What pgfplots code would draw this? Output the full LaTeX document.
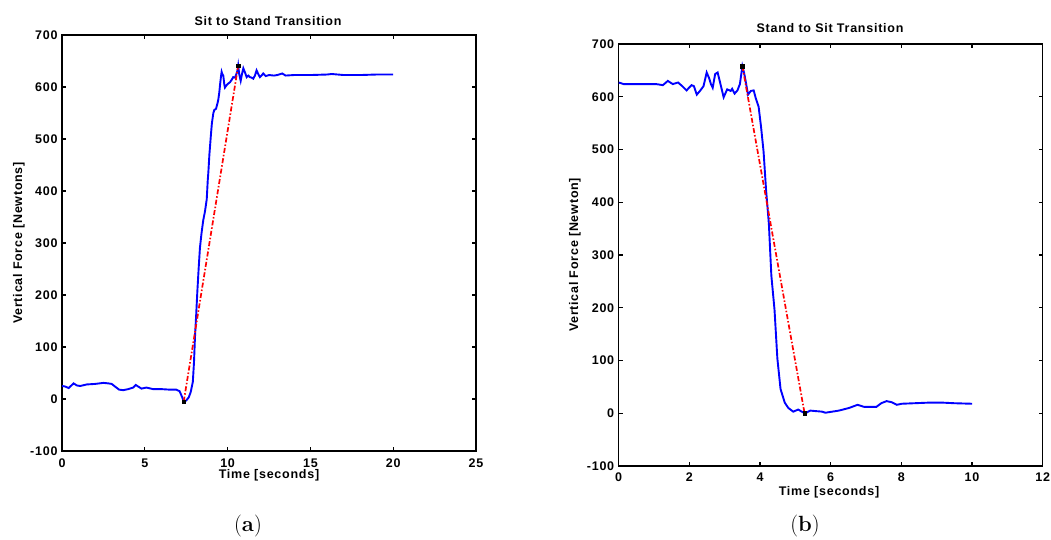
\documentclass[border=0pt]{standalone}
\usepackage{pgfplots}
\pgfplotsset{compat=1.18}
\usepackage{fontspec}
\newfontfamily\mlfont{Liberation Sans}[LetterSpace=6]
\newcommand{\tickfont}{\mlfont\bfseries\fontsize{12.5}{14}\selectfont}
\newcommand{\labfont}{\mlfont\bfseries\fontsize{12.5}{14}\selectfont}
\begin{document}
\begin{tikzpicture}
\useasboundingbox (0,0) rectangle (1051pt,540pt);
\pgfplotsset{
  mlaxis/.style={
    scale only axis,
    axis line style={line width=1.4pt},
    every tick/.style={black, line width=1.1pt},
    major tick length=4pt,
    tick align=inside,
    xtick pos=both, ytick pos=both,
    ymin=-100, ymax=700,
    ytick={-100,0,100,200,300,400,500,600,700},
    yticklabels={-100,0,100,200,300,400,500,600,700},
    ticklabel style={font=\tickfont},
    yticklabel style={anchor=east, xshift=-1pt},
  },
  rline/.style={red, line width=1.7pt, dash pattern=on 5pt off 2pt on 1.5pt off 2pt},
}
% ---------------- (a) Sit to Stand ----------------
\begin{axis}[mlaxis,
  at={(62pt,89pt)}, anchor=south west,
  width=414pt, height=416pt,
  xmin=0, xmax=25,
  xtick={0,5,10,15,20,25},
  xticklabels={0,5,10,15,20,25},
  xticklabel style={anchor=center, yshift=-12pt},
]
\addplot[blue, line width=1.9pt] coordinates {
(0,25) (0.2,24) (0.4,21) (0.7,30) (0.9,26) (1.1,25) (1.5,28) (2.0,29) (2.5,31) (2.8,30) (3.0,29) (3.2,24) (3.45,18) (3.7,17) (4.0,19) (4.3,22) (4.45,27) (4.6,24) (4.8,20) (5.1,22) (5.5,19) (6.0,19) (6.5,18) (6.9,18) (7.1,15) (7.25,4) (7.35,-5) (7.5,-3) (7.65,3) (7.77,13) (7.9,33) (7.97,70) (8.03,119) (8.1,160) (8.17,205) (8.25,250) (8.33,291) (8.43,320) (8.53,344) (8.63,360) (8.74,384) (8.8,420) (8.84,437) (8.9,470) (8.98,503) (9.05,530) (9.14,550) (9.2,556) (9.3,558) (9.4,570) (9.44,576) (9.5,590) (9.54,603) (9.6,620) (9.64,629) (9.68,625) (9.74,622) (9.8,605) (9.84,599) (9.95,604) (10.05,607) (10.14,609) (10.25,614) (10.34,619) (10.45,618) (10.54,626) (10.6,632) (10.64,641) (10.7,625) (10.79,612) (10.87,625) (10.95,636) (11.05,628) (11.15,619) (11.25,622) (11.35,619) (11.45,618) (11.55,616) (11.65,622) (11.75,632) (11.85,625) (11.95,619) (12.05,622) (12.15,626) (12.3,621) (12.5,623) (12.8,622) (13.0,623) (13.3,626) (13.5,622) (14,623) (15,623) (16,624) (16.3,625) (17,623) (18,623) (19,624) (20,624)
};
\addplot[rline] coordinates {(7.35,-5) (10.64,641)};
\addplot[only marks, mark=square*, mark size=1.8pt, black] coordinates {(7.35,-5) (10.64,641)};
\end{axis}
% ---------------- (b) Stand to Sit ----------------
\begin{axis}[mlaxis,
  at={(618.7pt,74pt)}, anchor=south west,
  width=424pt, height=422pt,
  xmin=0, xmax=12,
  xtick={0,2,4,6,8,10,12},
  xticklabels={0,2,4,6,8,10,12},
  xticklabel style={anchor=center, yshift=-11pt},
  yticklabel style={xshift=0pt},
]
\addplot[blue, line width=1.9pt] coordinates {
(0,627) (0.14,624) (0.5,624) (1.06,624) (1.25,622) (1.39,630) (1.53,624) (1.68,627) (1.8,620) (1.92,612) (2.06,622) (2.13,620) (2.21,604) (2.3,611) (2.4,620) (2.49,646) (2.56,635) (2.61,624) (2.66,617) (2.73,643) (2.8,646) (2.88,624) (2.97,599) (3.07,614) (3.17,611) (3.21,615) (3.28,606) (3.36,612) (3.43,624) (3.50,658) (3.55,645) (3.60,627) (3.66,604) (3.74,611) (3.82,612) (3.88,597) (3.96,581) (4.03,542) (4.10,496) (4.17,424) (4.25,359) (4.32,261) (4.41,196) (4.49,104) (4.58,46) (4.70,20) (4.80,10) (4.94,3) (5.08,7) (5.18,3) (5.28,0) (5.42,5) (5.76,3) (5.85,1) (6.23,5) (6.52,10) (6.76,16) (6.95,12) (7.29,12) (7.43,19) (7.58,23) (7.72,21) (7.87,16) (8.01,18) (8.73,20) (9.2,20) (9.5,19) (10.0,18)
};
\addplot[rline] coordinates {(3.50,658) (5.26,0)};
\addplot[only marks, mark=square*, mark size=1.8pt, black] coordinates {(3.50,658) (5.26,0)};
\end{axis}
% ---------------- texts ----------------
\node[font=\labfont] at (268pt,519.4pt) {Sit to Stand Transition};
\node[font=\labfont] at (830pt,511.8pt) {Stand to Sit Transition};
\node[font=\labfont] at (269pt,65pt) {Time [seconds]};
\node[font=\labfont] at (829pt,48pt) {Time [seconds]};
\node[font=\labfont, rotate=90] at (19pt,297pt) {Vertical Force [Newtons]};
\node[font=\labfont, rotate=90] at (575pt,285pt) {Vertical Force [Newton]};
\node[font=\fontsize{22}{26}\selectfont] at (248pt,14pt) {(\textbf{a})};
\node[font=\fontsize{22}{26}\selectfont] at (805pt,14pt) {(\textbf{b})};
\end{tikzpicture}
\end{document}
